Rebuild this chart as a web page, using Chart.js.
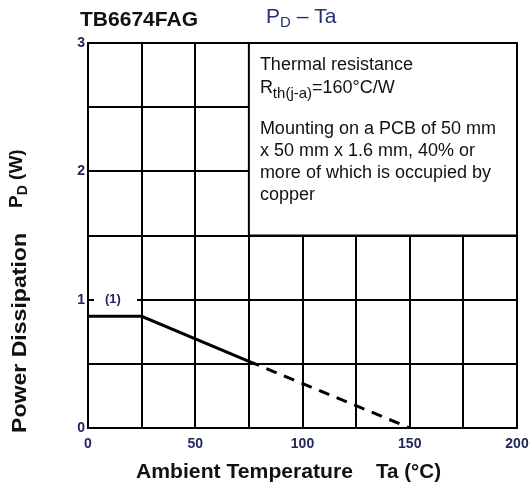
<!DOCTYPE html>
<html>
<head>
<meta charset="utf-8">
<script src="https://cdn.jsdelivr.net/npm/chart.js@4.4.0/dist/chart.umd.min.js"></script>
<style>
  body { margin: 0; background: #fff; }
  #chart { display: block; }
</style>
</head>
<body>
<canvas id="chart" width="531" height="488"></canvas>
<script>
// derating curve
const solidTemp = [0, 25, 75];
const solidPower = [0.87, 0.87, 0.52];
const dashTemp = [75, 150];
const dashPower = [0.52, 0];
const xLabels = [0, 50, 100, 150, 200];
const yLabels = [0, 1, 2, 3];
const noteText = ['Mounting on a PCB of 50 mm', 'x 50 mm x 1.6 mm, 40% or', 'more of which is occupied by', 'copper'];

const FONT = '"Liberation Sans", Arial, sans-serif';
const tickColor = '#22265a';

function toPoints(xs, ys) {
  return xs.map((v, i) => ({x: v, y: ys[i]}));
}

// draw text squeezed/stretched to a given width
function fitText(ctx, text, x, y, width) {
  const w = ctx.measureText(text).width;
  ctx.save();
  ctx.translate(x, y);
  ctx.scale(width / w, 1);
  ctx.fillText(text, 0, 0);
  ctx.restore();
}

const decor = {
  id: 'decor',
  beforeDatasetsDraw(chart) {
    const {ctx, scales: {x, y}} = chart;
    const left = x.getPixelForValue(75), right = x.getPixelForValue(200);
    const top = y.getPixelForValue(3), bottom = y.getPixelForValue(1.5);
    ctx.save();
    ctx.fillStyle = '#fff';
    ctx.fillRect(left, top, right - left, bottom - top);
    ctx.strokeStyle = '#000';
    ctx.lineWidth = 2;
    ctx.strokeRect(left, top, right - left, bottom - top);

    ctx.fillStyle = '#111';
    ctx.textAlign = 'left';
    ctx.textBaseline = 'alphabetic';
    const tx = left + 11;
    ctx.font = '18px ' + FONT;
    ctx.fillText('Thermal resistance', tx, 70);
    ctx.fillText('R', tx, 93);
    let w = ctx.measureText('R').width;
    ctx.font = '15px ' + FONT;
    ctx.fillText('th(j-a)', tx + w, 98);
    w += ctx.measureText('th(j-a)').width;
    ctx.font = '18px ' + FONT;
    ctx.fillText('=160\u00b0C/W', tx + w, 93);
    noteText.forEach((t, i) => ctx.fillText(t, tx, 134 + i * 22));

    // (1) marker sitting on the 1 W grid line
    const y1 = y.getPixelForValue(1);
    ctx.fillStyle = '#fff';
    ctx.fillRect(x.left + 6, y1 - 3, 43, 6);
    ctx.fillStyle = tickColor;
    ctx.font = 'bold 13px ' + FONT;
    ctx.fillText('(1)', x.left + 17, y1 + 3);
    ctx.restore();
  },
  afterDraw(chart) {
    const {ctx} = chart;
    ctx.save();
    ctx.textBaseline = 'alphabetic';
    ctx.textAlign = 'left';
    ctx.fillStyle = '#111';
    ctx.font = 'bold 20px ' + FONT;
    fitText(ctx, 'TB6674FAG', 80, 26, 118);

    // P_D - Ta
    ctx.fillStyle = '#26306e';
    ctx.font = '21px ' + FONT;
    ctx.fillText('P', 266, 23);
    let px = 266 + ctx.measureText('P').width;
    ctx.font = '15px ' + FONT;
    ctx.fillText('D', px, 27);
    px += ctx.measureText('D').width;
    ctx.font = '21px ' + FONT;
    ctx.fillText(' \u2013 Ta', px, 23);

    // axis titles
    ctx.fillStyle = '#111';
    ctx.font = 'bold 21px ' + FONT;
    fitText(ctx, 'Ambient Temperature', 136, 478, 217);
    fitText(ctx, 'Ta (\u00b0C)', 376, 478, 65);

    ctx.save();
    ctx.translate(26, 433);
    ctx.rotate(-Math.PI / 2);
    fitText(ctx, 'Power Dissipation', 0, 0, 200);
    ctx.font = 'bold 19px ' + FONT;
    ctx.fillText('P', 225, -4);
    let qx = 225 + ctx.measureText('P').width;
    ctx.font = 'bold 14px ' + FONT;
    ctx.fillText('D', qx, 1);
    qx += ctx.measureText('D').width;
    ctx.font = 'bold 19px ' + FONT;
    ctx.fillText(' (W)', qx, -4);
    ctx.restore();
    ctx.restore();
  }
};

new Chart(document.getElementById('chart'), {
  type: 'line',
  data: {
    datasets: [
      {
        data: toPoints(solidTemp, solidPower),
        borderColor: '#000',
        borderWidth: 3,
        pointRadius: 0
      },
      {
        data: toPoints(dashTemp, dashPower),
        borderColor: '#000',
        borderWidth: 3,
        borderDash: [11, 8],
        pointRadius: 0
      }
    ]
  },
  plugins: [decor],
  options: {
    responsive: false,
    animation: false,
    layout: {padding: {top: 43, right: 14, left: 0, bottom: 0}},
    plugins: {legend: {display: false}, tooltip: {enabled: false}},
    scales: {
      x: {
        type: 'linear',
        min: 0,
        max: 200,
        afterFit: s => { s.height = 60; s.paddingLeft = 0; s.paddingRight = 0; },
        grid: {color: '#000', lineWidth: 2, drawTicks: false},
        border: {color: '#000', width: 2},
        ticks: {
          stepSize: 25,
          padding: 8,
          color: tickColor,
          font: {family: FONT, size: 14, weight: 'bold'},
          maxRotation: 0,
          autoSkip: false,
          callback: v => xLabels.includes(v) ? String(v) : ''
        }
      },
      y: {
        type: 'linear',
        min: 0,
        max: 3,
        afterFit: s => { s.width = 88; s.paddingTop = 0; s.paddingBottom = 0; },
        grid: {color: '#000', lineWidth: 2, drawTicks: false},
        border: {color: '#000', width: 2},
        ticks: {
          stepSize: 0.5,
          padding: 3,
          color: tickColor,
          font: {family: FONT, size: 14, weight: 'bold'},
          autoSkip: false,
          callback: v => yLabels.includes(v) ? String(v) : ''
        }
      }
    }
  }
});
</script>
</body>
</html>
